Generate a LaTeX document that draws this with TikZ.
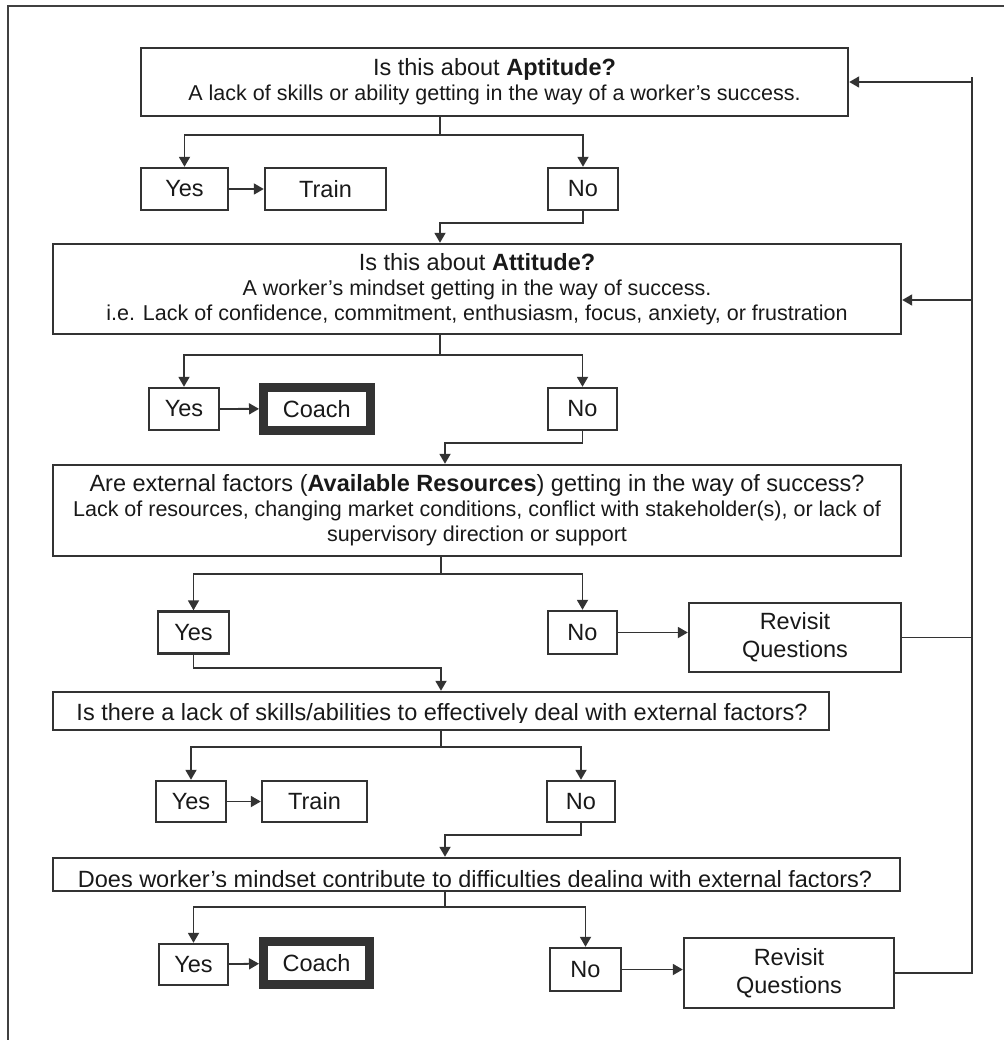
\documentclass[tikz,border=0pt]{standalone}
\usepackage{fontspec}
\setmainfont{Liberation Sans}
\usetikzlibrary{arrows.meta}

\newcommand\headsize{\fontsize{23.5}{25}\selectfont}
\newcommand\notesize{\fontsize{21.5}{25}\selectfont}

\tikzset{
  link/.style={line width=1.8pt, draw=black!80},
  flow/.style={link, -{Triangle[length=10pt,width=11pt]}},
  frame/.style={line width=1.6pt, draw=black!75},
  question/.style={draw=black!80, line width=2.4pt, inner sep=0pt, align=center,
    font=\headsize, text=black!90},
  answer/.style={question},
  coach/.style={answer, line width=9pt},
}

\begin{document}
\begin{tikzpicture}[x=1pt,y=-1pt]

    \useasboundingbox (0,0) rectangle (1003,1040);

    % --- Outer frame (only top and left edges are visible) ---
    \draw[frame] (8,1045) |- (1010,6);

    % --- Question boxes ---
    \node[question, minimum width=707pt, minimum height=68pt] (q1) at (494.5,82)
      {Is this about \textbf{Aptitude?}\\
       {\notesize A lack of skills or ability getting in the way of a worker’s success.}};
    \node[question, minimum width=848pt, minimum height=90pt] (q2) at (477,289)
      {Is this about \textbf{Attitude?}\\
       {\notesize A worker’s mindset getting in the way of success.}\\
       {\notesize i.e. Lack of confidence, commitment, enthusiasm, focus, anxiety, or frustration}};
    \node[question, minimum width=848pt, minimum height=91pt] (q3) at (477,510.5)
      {Are external factors (\textbf{Available Resources}) getting in the way of success?\\
       {\notesize Lack of resources, changing market conditions, conflict with stakeholder(s), or lack of}\\
       {\notesize supervisory direction or support}};
    % text of the two lower boxes is cut off at its foot, as in the source
    \node[question, minimum width=776pt, minimum height=38pt,
      path picture={
        \clip (path picture bounding box.north west)
          rectangle ([yshift=8pt]path picture bounding box.south east);
        \node[anchor=base, font=\headsize, text=black!90]
          at ([xshift=1pt,yshift=10pt]path picture bounding box.south)
          {Is there a lack of skills/abilities to effectively deal with external factors?};}]
      (q4) at (441,711) {};
    \node[question, minimum width=847pt, minimum height=33pt,
      path picture={
        \clip (path picture bounding box.north west)
          rectangle ([yshift=5pt]path picture bounding box.south east);
        \node[anchor=base, font=\headsize, text=black!90]
          at ([xshift=-1.5pt,yshift=4pt]path picture bounding box.south)
          {Does worker’s mindset contribute to difficulties dealing with external factors?};}]
      (q5) at (476.5,874.5) {};

    % --- Answer boxes ---
    \node[answer, minimum width=87pt, minimum height=42pt] (yes1) at (184.5,189) {Yes};
    \node[answer, minimum width=121pt, minimum height=42pt] (train1) at (325.5,189) {Train};
    \node[answer, minimum width=70pt, minimum height=42pt] (no1) at (583,189) {No};

    \node[answer, minimum width=70pt, minimum height=42pt] (yes2) at (184,409) {Yes};
    \node[coach, minimum width=106.5pt, minimum height=42.5pt] (coach2) at (316.75,408.75)
      {\raisebox{-4pt}{Coach}};
    \node[answer, minimum width=69pt, minimum height=42pt] (no2) at (582.5,409) {No};

    \node[answer, minimum width=71pt, minimum height=42pt] (yes3) at (193.5,632.5) {Yes};
    \node[answer, minimum width=69pt, minimum height=43pt] (no3) at (582.5,632.5) {No};
    \node[answer, minimum width=212pt, minimum height=69pt] (revisit3) at (795,637.5)
      {Revisit\\[3pt]Questions};

    \node[answer, minimum width=70pt, minimum height=41pt] (yes4) at (191,801.5) {Yes};
    \node[answer, minimum width=105pt, minimum height=41pt] (train4) at (314.5,801.5) {Train};
    \node[answer, minimum width=68pt, minimum height=41pt] (no4) at (581,801.5) {No};

    \node[answer, minimum width=69pt, minimum height=41pt] (yes5) at (193.5,964.5) {Yes};
    \node[coach, minimum width=106pt, minimum height=43pt] (coach5) at (316.5,963)
      {\raisebox{-4pt}{Coach}};
    \node[answer, minimum width=71pt, minimum height=43pt] (no5) at (585.5,969.5) {No};
    \node[answer, minimum width=210pt, minimum height=70pt] (revisit5) at (789,973)
      {Revisit\\[3pt]Questions};

    % --- Junction points ---
    \coordinate (t1) at (440,135);
    \coordinate (r1) at (440,223);
    \coordinate (t2) at (440,355);
    \coordinate (r2) at (445,443);
    \coordinate (t3) at (441,574);
    \coordinate (r3) at (441,668);
    \coordinate (t4) at (441,747);
    \coordinate (r4) at (445,835);
    \coordinate (t5) at (445,907);

    % feedback line on the right
    \coordinate (fbtop) at (972,77);
    \coordinate (fb1) at (972,82);
    \coordinate (fb2) at (972,300);

    % --- Branches ---
    \draw[link] (q1.south -| t1) -- (t1);
    \draw[flow] (t1) -| (yes1.north);
    \draw[flow] (t1) -| (no1.north);
    \draw[flow] (yes1) -- (train1);
    \draw[flow] (no1.south) |- (r1) -- (r1 |- q2.north);

    \draw[link] (q2.south -| t2) -- (t2);
    \draw[flow] (t2) -| (yes2.north);
    \draw[flow] (t2) -| (no2.north);
    \draw[flow] (yes2) -- (coach2);
    \draw[flow] (no2.south) |- (r2) -- (r2 |- q3.north);

    \draw[link] (q3.south -| t3) -- (t3);
    \draw[flow] (t3) -| (yes3.north);
    \draw[flow] (t3) -| (no3.north);
    \draw[flow] (no3.east) -- (no3.east -| revisit3.west);
    \draw[flow] (yes3.south) |- (r3) -- (r3 |- q4.north);

    \draw[link] (q4.south -| t4) -- (t4);
    \draw[flow] (t4) -| (yes4.north);
    \draw[flow] (t4) -| (no4.north);
    \draw[flow] (yes4) -- (train4);
    \draw[flow] (no4.south) |- (r4) -- (r4 |- q5.north);

    \draw[link] (q5.south -| t5) -- (t5);
    \draw[flow] (t5) -| (yes5.north);
    \draw[flow] (t5) -| (no5.north);
    \draw[flow] (yes5) -- (coach5);
    \draw[flow] (no5.east) -- (no5.east -| revisit5.west);

    % --- Feedback to the top ---
    \draw[link] (revisit5.east) -| (fbtop);
    \draw[link] (revisit3.east) -- (revisit3.east -| fbtop);
    \draw[flow] (fb1) -- (fb1 -| q1.east);
    \draw[flow] (fb2) -- (fb2 -| q2.east);

\end{tikzpicture}
\end{document}
